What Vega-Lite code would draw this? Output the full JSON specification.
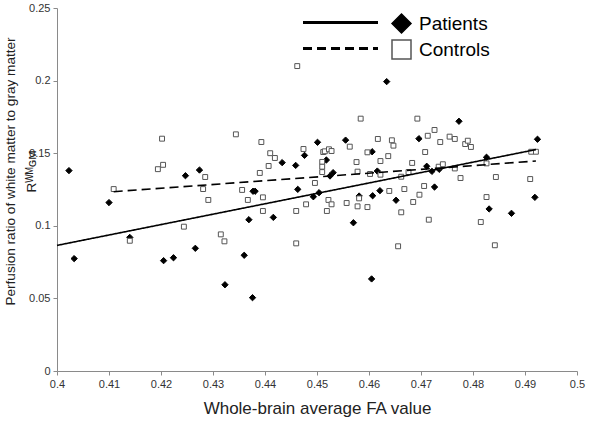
{
  "$schema": "https://vega.github.io/schema/vega-lite/v6.json",
  "width": 520,
  "height": 363,
  "autosize": {"type": "none"},
  "padding": {"left": 57, "top": 8, "right": 23, "bottom": 69},
  "background": "white",
  "config": {
    "view": {"stroke": null},
    "font": "Liberation Sans",
    "axis": {
      "grid": false,
      "domainColor": "#8a8a8a",
      "tickColor": "#8a8a8a",
      "labelColor": "#333333",
      "titleColor": "#222222",
      "labelFont": "Liberation Sans",
      "titleFont": "Liberation Sans",
      "titleFontWeight": "normal"
    },
    "legend": {"labelFont": "Liberation Sans", "padding": 0}
  },
  "datasets": {
    "points": [
      {"group": "Patients", "fa": 0.4023, "ratio": 0.138},
      {"group": "Patients", "fa": 0.4033, "ratio": 0.0774},
      {"group": "Patients", "fa": 0.41, "ratio": 0.116},
      {"group": "Patients", "fa": 0.414, "ratio": 0.092},
      {"group": "Patients", "fa": 0.4205, "ratio": 0.076},
      {"group": "Patients", "fa": 0.4224, "ratio": 0.078},
      {"group": "Patients", "fa": 0.4247, "ratio": 0.1345},
      {"group": "Patients", "fa": 0.4266, "ratio": 0.0845},
      {"group": "Patients", "fa": 0.4274, "ratio": 0.1384},
      {"group": "Patients", "fa": 0.4323, "ratio": 0.0594},
      {"group": "Patients", "fa": 0.436, "ratio": 0.0797},
      {"group": "Patients", "fa": 0.4369, "ratio": 0.1042},
      {"group": "Patients", "fa": 0.4376, "ratio": 0.0505},
      {"group": "Patients", "fa": 0.4377, "ratio": 0.1238},
      {"group": "Patients", "fa": 0.4381, "ratio": 0.1238},
      {"group": "Patients", "fa": 0.4416, "ratio": 0.1058},
      {"group": "Patients", "fa": 0.4433, "ratio": 0.1435},
      {"group": "Patients", "fa": 0.4459, "ratio": 0.1416},
      {"group": "Patients", "fa": 0.4463, "ratio": 0.1251},
      {"group": "Patients", "fa": 0.4476, "ratio": 0.1485},
      {"group": "Patients", "fa": 0.4493, "ratio": 0.12},
      {"group": "Patients", "fa": 0.4501, "ratio": 0.1575},
      {"group": "Patients", "fa": 0.4504, "ratio": 0.1228},
      {"group": "Patients", "fa": 0.4518, "ratio": 0.1453},
      {"group": "Patients", "fa": 0.4525, "ratio": 0.1343},
      {"group": "Patients", "fa": 0.4531, "ratio": 0.1366},
      {"group": "Patients", "fa": 0.4555, "ratio": 0.159},
      {"group": "Patients", "fa": 0.457, "ratio": 0.1021},
      {"group": "Patients", "fa": 0.4581, "ratio": 0.1205},
      {"group": "Patients", "fa": 0.4605, "ratio": 0.0634},
      {"group": "Patients", "fa": 0.4606, "ratio": 0.151},
      {"group": "Patients", "fa": 0.4607, "ratio": 0.1207},
      {"group": "Patients", "fa": 0.4616, "ratio": 0.1377},
      {"group": "Patients", "fa": 0.4621, "ratio": 0.1242},
      {"group": "Patients", "fa": 0.4634, "ratio": 0.1993},
      {"group": "Patients", "fa": 0.4652, "ratio": 0.1176},
      {"group": "Patients", "fa": 0.4696, "ratio": 0.16},
      {"group": "Patients", "fa": 0.4711, "ratio": 0.141},
      {"group": "Patients", "fa": 0.4721, "ratio": 0.1375},
      {"group": "Patients", "fa": 0.4726, "ratio": 0.1267},
      {"group": "Patients", "fa": 0.4735, "ratio": 0.1389},
      {"group": "Patients", "fa": 0.4773, "ratio": 0.172},
      {"group": "Patients", "fa": 0.4826, "ratio": 0.1472},
      {"group": "Patients", "fa": 0.4831, "ratio": 0.1116},
      {"group": "Patients", "fa": 0.4874, "ratio": 0.1086},
      {"group": "Patients", "fa": 0.4919, "ratio": 0.1196},
      {"group": "Patients", "fa": 0.4924, "ratio": 0.1596},
      {"group": "Controls", "fa": 0.4109, "ratio": 0.1253},
      {"group": "Controls", "fa": 0.414, "ratio": 0.0897},
      {"group": "Controls", "fa": 0.4194, "ratio": 0.139},
      {"group": "Controls", "fa": 0.4202, "ratio": 0.16},
      {"group": "Controls", "fa": 0.4204, "ratio": 0.142},
      {"group": "Controls", "fa": 0.4244, "ratio": 0.0994},
      {"group": "Controls", "fa": 0.4281, "ratio": 0.1253},
      {"group": "Controls", "fa": 0.4285, "ratio": 0.1336},
      {"group": "Controls", "fa": 0.4291, "ratio": 0.1178},
      {"group": "Controls", "fa": 0.4315, "ratio": 0.0941},
      {"group": "Controls", "fa": 0.4322, "ratio": 0.0893},
      {"group": "Controls", "fa": 0.4344, "ratio": 0.163},
      {"group": "Controls", "fa": 0.4356, "ratio": 0.1247},
      {"group": "Controls", "fa": 0.4367, "ratio": 0.1178},
      {"group": "Controls", "fa": 0.439, "ratio": 0.1364},
      {"group": "Controls", "fa": 0.4393, "ratio": 0.1577},
      {"group": "Controls", "fa": 0.4396, "ratio": 0.1196},
      {"group": "Controls", "fa": 0.4396, "ratio": 0.1102},
      {"group": "Controls", "fa": 0.4407, "ratio": 0.1412},
      {"group": "Controls", "fa": 0.441, "ratio": 0.15},
      {"group": "Controls", "fa": 0.4419, "ratio": 0.1467},
      {"group": "Controls", "fa": 0.446, "ratio": 0.1102},
      {"group": "Controls", "fa": 0.446, "ratio": 0.0879},
      {"group": "Controls", "fa": 0.4462, "ratio": 0.21},
      {"group": "Controls", "fa": 0.4474, "ratio": 0.1529},
      {"group": "Controls", "fa": 0.4479, "ratio": 0.1148},
      {"group": "Controls", "fa": 0.4496, "ratio": 0.1295},
      {"group": "Controls", "fa": 0.451, "ratio": 0.144},
      {"group": "Controls", "fa": 0.451, "ratio": 0.1407},
      {"group": "Controls", "fa": 0.451, "ratio": 0.137},
      {"group": "Controls", "fa": 0.4512, "ratio": 0.1508},
      {"group": "Controls", "fa": 0.4515, "ratio": 0.1513},
      {"group": "Controls", "fa": 0.4519, "ratio": 0.1102},
      {"group": "Controls", "fa": 0.4522, "ratio": 0.1178},
      {"group": "Controls", "fa": 0.4523, "ratio": 0.1527},
      {"group": "Controls", "fa": 0.4528, "ratio": 0.1515},
      {"group": "Controls", "fa": 0.4528, "ratio": 0.1148},
      {"group": "Controls", "fa": 0.4557, "ratio": 0.1157},
      {"group": "Controls", "fa": 0.4563, "ratio": 0.1545},
      {"group": "Controls", "fa": 0.4576, "ratio": 0.1439},
      {"group": "Controls", "fa": 0.4578, "ratio": 0.1373},
      {"group": "Controls", "fa": 0.4578, "ratio": 0.1134},
      {"group": "Controls", "fa": 0.4581, "ratio": 0.1189},
      {"group": "Controls", "fa": 0.4584, "ratio": 0.1738},
      {"group": "Controls", "fa": 0.4597, "ratio": 0.1506},
      {"group": "Controls", "fa": 0.4597, "ratio": 0.1129},
      {"group": "Controls", "fa": 0.4602, "ratio": 0.1357},
      {"group": "Controls", "fa": 0.4617, "ratio": 0.1598},
      {"group": "Controls", "fa": 0.4622, "ratio": 0.1446},
      {"group": "Controls", "fa": 0.4622, "ratio": 0.1352},
      {"group": "Controls", "fa": 0.4637, "ratio": 0.148},
      {"group": "Controls", "fa": 0.4639, "ratio": 0.124},
      {"group": "Controls", "fa": 0.4644, "ratio": 0.1589},
      {"group": "Controls", "fa": 0.4647, "ratio": 0.1552},
      {"group": "Controls", "fa": 0.4656, "ratio": 0.0859},
      {"group": "Controls", "fa": 0.4662, "ratio": 0.1338},
      {"group": "Controls", "fa": 0.4662, "ratio": 0.1093},
      {"group": "Controls", "fa": 0.4668, "ratio": 0.1253},
      {"group": "Controls", "fa": 0.4676, "ratio": 0.137},
      {"group": "Controls", "fa": 0.4683, "ratio": 0.1433},
      {"group": "Controls", "fa": 0.4685, "ratio": 0.1164},
      {"group": "Controls", "fa": 0.4693, "ratio": 0.1738},
      {"group": "Controls", "fa": 0.4697, "ratio": 0.1214},
      {"group": "Controls", "fa": 0.4706, "ratio": 0.1274},
      {"group": "Controls", "fa": 0.4708, "ratio": 0.1508},
      {"group": "Controls", "fa": 0.4713, "ratio": 0.162},
      {"group": "Controls", "fa": 0.4715, "ratio": 0.1042},
      {"group": "Controls", "fa": 0.4726, "ratio": 0.166},
      {"group": "Controls", "fa": 0.4734, "ratio": 0.1407},
      {"group": "Controls", "fa": 0.4737, "ratio": 0.1577},
      {"group": "Controls", "fa": 0.4742, "ratio": 0.1424},
      {"group": "Controls", "fa": 0.4755, "ratio": 0.1614},
      {"group": "Controls", "fa": 0.4765, "ratio": 0.1598},
      {"group": "Controls", "fa": 0.4765, "ratio": 0.1395},
      {"group": "Controls", "fa": 0.4776, "ratio": 0.1329},
      {"group": "Controls", "fa": 0.4785, "ratio": 0.1563},
      {"group": "Controls", "fa": 0.479, "ratio": 0.1586},
      {"group": "Controls", "fa": 0.4796, "ratio": 0.1543},
      {"group": "Controls", "fa": 0.4815, "ratio": 0.1026},
      {"group": "Controls", "fa": 0.4826, "ratio": 0.143},
      {"group": "Controls", "fa": 0.4826, "ratio": 0.1198},
      {"group": "Controls", "fa": 0.4842, "ratio": 0.0866},
      {"group": "Controls", "fa": 0.4844, "ratio": 0.1336},
      {"group": "Controls", "fa": 0.491, "ratio": 0.1322},
      {"group": "Controls", "fa": 0.4912, "ratio": 0.151},
      {"group": "Controls", "fa": 0.4921, "ratio": 0.151}
    ],
    "trends": [
      {"fit": "Patients trend", "fa": 0.4, "ratio": 0.0865},
      {"fit": "Patients trend", "fa": 0.4921, "ratio": 0.1525},
      {"fit": "Controls trend", "fa": 0.4109, "ratio": 0.1235},
      {"fit": "Controls trend", "fa": 0.4921, "ratio": 0.1446}
    ]
  },
  "encoding": {
    "x": {
      "field": "fa",
      "type": "quantitative",
      "scale": {"domain": [0.4, 0.5], "nice": false, "zero": false},
      "axis": {
        "values": [0.4, 0.41, 0.42, 0.43, 0.44, 0.45, 0.46, 0.47, 0.48, 0.49, 0.5],
        "format": "~g",
        "labelFontSize": 11,
        "tickSize": 4,
        "labelPadding": 3,
        "labelFlush": false,
        "title": "Whole-brain average FA value",
        "titleFontSize": 17,
        "titlePadding": 11
      }
    },
    "y": {
      "field": "ratio",
      "type": "quantitative",
      "scale": {"domain": [0, 0.25], "nice": false, "zero": true},
      "axis": {
        "values": [0, 0.05, 0.1, 0.15, 0.2, 0.25],
        "format": "~g",
        "labelFontSize": 11,
        "tickSize": 4,
        "labelPadding": 3,
        "labelFlush": false,
        "title": ["Perfusion ratio of white matter to gray matter", "Rᵂᴹɢᴍ"],
        "titleFontSize": 13.6,
        "titleLineHeight": 21,
        "titleX": -40,
        "titleY": 163,
        "titleAngle": -90,
        "titleAlign": "center",
        "titleBaseline": "bottom"
      }
    }
  },
  "layer": [
    {
      "data": {"name": "points"},
      "mark": {"type": "point", "strokeWidth": 1, "opacity": 1},
      "encoding": {
        "shape": {
          "field": "group",
          "type": "nominal",
          "scale": {"domain": ["Patients", "Controls"], "range": ["diamond", "square"]},
          "legend": {
            "orient": "none",
            "legendX": 334,
            "legendY": 5,
            "title": null,
            "symbolSize": 361,
            "symbolStrokeWidth": 1.5,
            "labelFontSize": 19,
            "labelColor": "black",
            "labelOffset": 7,
            "rowPadding": 1
          }
        },
        "fill": {
          "field": "group",
          "type": "nominal",
          "scale": {"domain": ["Patients", "Controls"], "range": ["black", "white"]},
          "legend": null
        },
        "stroke": {
          "field": "group",
          "type": "nominal",
          "scale": {"domain": ["Patients", "Controls"], "range": ["black", "#555555"]},
          "legend": null
        },
        "size": {"condition": {"test": "datum.group === 'Patients'", "value": 40}, "value": 24}
      }
    },
    {
      "data": {"name": "trends"},
      "mark": {"type": "line", "color": "black", "strokeWidth": 1.6},
      "encoding": {
        "strokeDash": {
          "field": "fit",
          "type": "nominal",
          "scale": {"domain": ["Patients trend", "Controls trend"], "range": [[1, 0], [9, 5]]},
          "legend": {
            "orient": "none",
            "legendX": 274,
            "legendY": 5,
            "title": null,
            "symbolType": "M-7.5,0H7.5",
            "symbolSize": 100,
            "symbolStrokeWidth": 2.8,
            "symbolStrokeColor": "black",
            "labelExpr": "''",
            "labelFontSize": 19,
            "rowPadding": 6
          }
        }
      }
    }
  ]
}
